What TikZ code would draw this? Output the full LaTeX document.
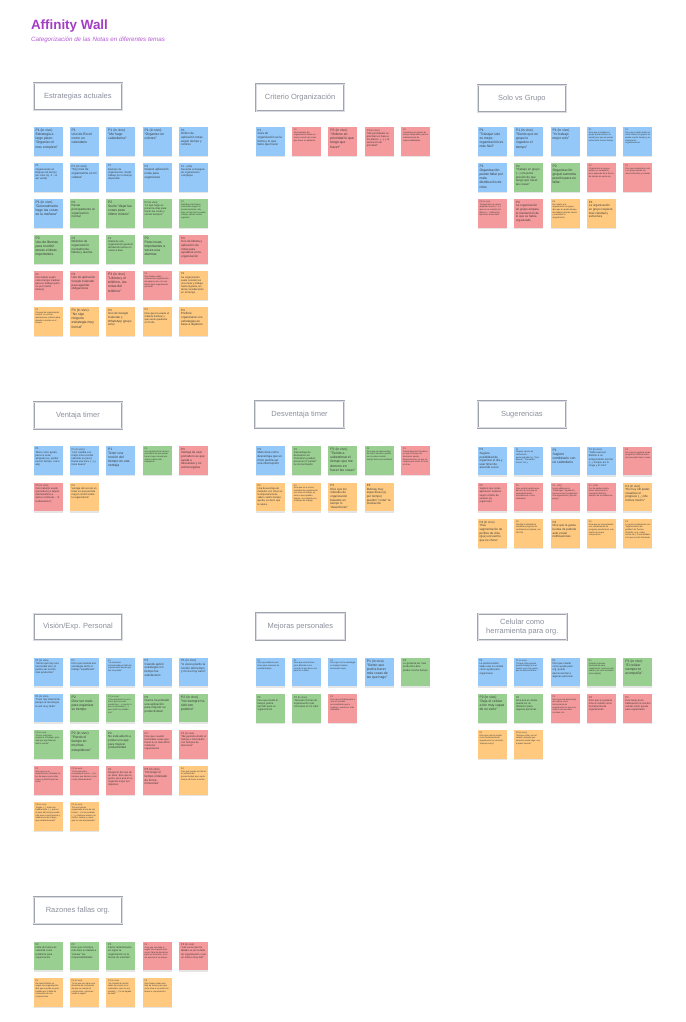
\documentclass[tikz,border=0pt]{standalone}
\usepackage{fontspec}
\setmainfont{Liberation Sans}
\usetikzlibrary{shadows}
\definecolor{nblue}{HTML}{93C8F8}
\definecolor{ngreen}{HTML}{99CF90}
\definecolor{nred}{HTML}{F59A9C}
\definecolor{norange}{HTML}{FFCA80}
\definecolor{ntext}{HTML}{3A3A3A}
\definecolor{hdrline}{HTML}{A0A4AF}
\definecolor{hdrinner}{HTML}{DADCE2}
\definecolor{hdrtext}{HTML}{8C909C}
\definecolor{titlepurple}{HTML}{A33EC4}
\definecolor{subpurple}{HTML}{B65AD4}
\newcommand\pb[1]{\parbox[t][24.5pt][t]{25pt}{\raggedright\hyphenpenalty=200 #1}}
\newcommand\nn[4]{\node[note,#2] (#1) at (#3) {\pb{#4}};}
\tikzset{
  note/.style={anchor=north west, inner sep=2pt, text=ntext,
    font=\fontsize{3.4}{4.1}\selectfont,
    drop shadow={shadow xshift=0pt, shadow yshift=-1.4pt, opacity=0.2}},
  nb/.style={fill=nblue}, ng/.style={fill=ngreen}, nr/.style={fill=nred}, no/.style={fill=norange},
  md/.style={font=\fontsize{3.0}{3.6}\selectfont},
  sm/.style={font=\fontsize{2.6}{3.1}\selectfont},
  tn/.style={font=\fontsize{2.15}{2.6}\selectfont},
  hdr/.style={anchor=north west, draw=hdrline, line width=0.7pt,
    double=hdrinner, double distance=0.6pt, fill=white,
    minimum width=88.5pt, minimum height=26.5pt, inner sep=1pt, align=center,
    text=hdrtext, font=\fontsize{7.5}{9}\selectfont,
    drop shadow={shadow xshift=0pt, shadow yshift=-0.8pt, opacity=0.08}}
}
\begin{document}
\begin{tikzpicture}[x=1pt,y=-1pt]
\fill[white] (0,0) rectangle (685,1022);
\useasboundingbox (0,0) rectangle (685,1022);
% title
\node[anchor=base west, inner sep=0pt, text=titlepurple, font=\fontsize{13.4}{15}\selectfont\bfseries] (title) at (30.8,29.5) {Affinity Wall};
\node[anchor=base west, inner sep=0pt, text=subpurple, font=\fontsize{6.2}{7}\selectfont\itshape] (subtitle) at (31,41.5) {Categorización de las Notas en diferentes temas};

% ---------------- Estrategias actuales
\node[hdr] (h1) at (33.3,83) {Estrategias actuales};
\nn{es11}{nb}{33.3,127}{P1 (in vivo)\\Estrategia a largo plazo: "Organizo el mes completo"}
\nn{es12}{nb}{69.5,127}{P1\\Uso de Excel como un calendario}
\nn{es13}{nb}{106,127}{P1 (in vivo)\\"Me hago calendarios"}
\nn{es14}{nb}{142.4,127}{P1 (in vivo)\\"Organizo en colores"}
\nn{es15}{nb,md}{179,127}{P1\\Orden de aplicación notas según tiempo y colores}
\nn{es21}{nb,sm}{33.3,163}{P1\\Organización en bloques de tiempo por color (ej. 0 - 11 am verde)}
\nn{es22}{nb,md}{69.5,163}{P1 (in vivo)\\"Soy más de organizarme en mi cabeza"}
\nn{es23}{nb,sm}{106,163}{P1\\Ejemplo de organización: dividir trabajo por el tiempo disponible}
\nn{es24}{nb,md}{142.4,163}{P1\\Grupos aplicación notas para organizarse}
\nn{es25}{nb,sm}{179,163}{P1 - (OS)\\Necesita estrategias de organización complejas}
\nn{es31}{nb}{33.3,199}{P1 (in vivo)\\"Generalmente hago las cosas en la mañana"}
\nn{es32}{ng,md}{69.5,199}{P2\\Recae principalmente en organización mental}
\nn{es33}{ng}{106,199}{P2\\Suele "dejar las cosas para último minuto"}
\nn{es34}{ng,sm}{142.4,199}{P2 (in vivo)\\"Lo que hago es ponerme días para hacer las cosas y ciertos tiempos"}
\nn{es35}{ng,tn}{179,199}{P2\\Distribuye las tareas semanales según su involucramiento: alto, bajo, si hay más lo puede cumplir, tareas menos urgentes}
\nn{es41}{ng}{33.3,235}{P2\\Uso de libretas para escribir tareas e ideas importantes.}
\nn{es42}{ng,md}{69.5,235}{P2\\Métodos de organización: mentalmente, libreta y alarma}
\nn{es43}{ng,sm}{106,235}{P2\\Habla de una organización general: dividiendo tareas en cosas a días.}
\nn{es44}{ng}{142.4,235}{P2\\Para cosas importantes a veces usa alarmas}
\nn{es45}{nr,md}{179,235}{P3\\Uso de libreta y aplicación de notas para ayudarse en la organización}
\nn{es51}{nr,sm}{33.3,271}{P3\\Dice haber usado como tiempo Kanban para su trabajo (pero no por mucho tiempo)}
\nn{es52}{nr,md}{69.5,271}{P3\\Uso de aplicación Google Calendar para agendar obligaciones}
\nn{es53}{nr}{106,271}{P3 (in vivo)\\"Libreta y el teléfono, las notas del teléfono"}
\nn{es54}{nr,tn}{142.4,271}{P3\\Dice haber usado métodos de organización de equipo pero con una libreta para organización personal}
\nn{es55}{no,sm}{179,271}{P4\\Su organización suele consistir en una meta y trabaja hasta lograrla, sin tanta consideración en el tiempo}
\nn{es61}{no,tn}{33.3,307}{P4\\Proceso de organización mental: en uso de aplicaciones y libreta para atender a metas en el tiempo}
\nn{es62}{no}{69.5,307}{P4 (in vivo)\\"No sigo ninguna estrategia muy formal"}
\nn{es63}{no,md}{106,307}{P4\\Uso de Google Calendar y WhatsApp (grupo solo)}
\nn{es64}{no,sm}{142.4,307}{P4\\Dice que ha usado el método Kanban y que suele quedarse en Trello}
\nn{es65}{no,md}{179,307}{P4\\Prefiere organizarse con estrategias en base a objetivos}

% ---------------- Criterio Organización
\node[hdr] (h2) at (255.5,84) {Criterio Organización};
\nn{co1}{nb,md}{255.3,127}{P1\\Guía de organización es la fecha y lo que tiene que hacer}
\nn{co2}{nr,tn}{291.7,127}{P3\\Usa métodos de organización desde un marco común de cosas que hacer en adelante}
\nn{co3}{nr}{328.2,127}{P3 (in vivo)\\"Ordeno en prioridad lo que tengo que hacer"}
\nn{co4}{nr,sm}{364.6,127}{P3 (in vivo)\\"Mis prioridades se priorizan en base a los plazos, (...), y la sensación de prioridad"}
\nn{co5}{nr,tn}{401,127}{P3\\Considera los plazos de tiempo disponibles para el ordenamiento de responsabilidades}

% ---------------- Solo vs Grupo
\node[hdr] (h3) at (477.3,85) {Solo vs Grupo};
\nn{sg11}{nb}{477.3,127}{P1\\"Trabajar solo es mejor, organización es más fácil"}
\nn{sg12}{nb}{513.8,127}{P1 (in vivo)\\"Siento que en grupo lo organizo el tiempo"}
\nn{sg13}{nb}{550.3,127}{P1 (in vivo)\\"Yo trabajo mejor solo"}
\nn{sg14}{nb,tn}{586.7,127}{P1\\Dice que el trabajo en grupo presencial (no lo puede) por que se puede estructurar mucho tiempo}
\nn{sg15}{nb,tn}{623.2,127}{P1\\Dice que cuando todos no están claros en grupos se pierde mucho tiempo y no siempre las organizaciones}
\nn{sg21}{nb}{477.3,163}{P1\\Organización puede fallar por mala distribución de roles}
\nn{sg22}{ng,md}{513.8,163}{P2\\"Trabajo en grupo (...) me pone presión de que tengo que hacer las cosas"}
\nn{sg23}{ng}{550.3,163}{P2\\Organización grupal aumenta presión para no fallar.}
\nn{sg24}{nr,tn}{586.7,163}{P3\\Organizarse en grupo puede ser verdadero, pero depende de la forma de trabajo de cada uno}
\nn{sg25}{nr,tn}{623.2,163}{P3\\Dice que organizarse solo o en grupo puede ser menos eficiente y ordenar}
\nn{sg31}{nr,tn}{477.3,199}{P3 (in vivo)\\"Organizarse en grupo depende mucho (...) a que no se cumplen los plazos (...) diferentes ejercicios esenciales"}
\nn{sg32}{nr,md}{513.8,199}{P3\\La organización en grupo ampara la mantención de lo que se había organizado}
\nn{sg33}{no,tn}{550.3,199}{P4\\En cuanto a la organización en grupo, dice que le queda tiempo de trabajo para las tareas y mantener la organización}
\nn{sg34}{no,md}{586.7,199}{P4\\La organización en grupo requiere más claridad y estructura}

% ---------------- Ventaja timer
\node[hdr] (h4) at (33.3,401.7) {Ventaja timer};
\nn{vt11}{nb,sm}{33.3,446}{P1\\Tener como ayuda para no estar atrapado (ej. perder noción tiempo, como ala)}
\nn{vt12}{nb,sm}{69.5,446}{P1 (in vivo)\\"Uno cambia a lo mejor más el estilo (atiende un poco) basta una hora (...) y tiene bueno"}
\nn{vt13}{nb}{106,446}{P1\\Tener una noción del tiempo es una ventaja}
\nn{vt14}{ng,tn}{142.4,446}{P2\\Una ventaja de la técnica pomodoro es que puede hacer mayor conciencia sobre cuánto está trabajando}
\nn{vt15}{nr,md}{179,446}{P3\\Ventaja de usar pomodoro es que ayuda a descansar y no sobrecargarse}
\nn{vt21}{nr,sm}{33.3,482.5}{P3 (in vivo)\\Dice haberlo usado (pomodoro) a tarjeta (del beneficio a opinar continuar... "a la liberadora")}
\nn{vt22}{no,sm}{69.5,482.5}{P4\\Ventaja del uso de un timer es que permite mayor control sobre la organización}

% ---------------- Desventaja timer
\node[hdr] (h5) at (255,400.7) {Desventaja timer};
\nn{dt11}{nb,md}{255.3,446}{P1\\Menciona como desventaja que un timer podría ser una interrupción}
\nn{dt12}{ng,sm}{291.7,446}{P2\\Desventaja de descansos en Pomodoro pueden provocar el "perder" la concentración}
\nn{dt13}{ng}{328.2,446}{P2 (in vivo)\\"Tiendo a subestimar el tiempo que me demoro en hacer las cosas"}
\nn{dt14}{ng,tn}{364.6,446}{P2\\Dice que una desventaja de usar Pomodoro puede ser no saber cuánto tiempo tiene una actividad}
\nn{dt15}{nr,tn}{401,446}{P3\\Desventaja de Pomodoro es que el tiempo de descanso puede desconcentrar, ya que se tendría que volver a tomar el ritmo}
\nn{dt21}{no,sm}{255.3,482.5}{P4\\Una desventaja de métodos con timer es la impaciencia de saber cuánto tiempo queda, es decir que te apura.}
\nn{dt22}{no,tn}{291.7,482.5}{P4\\Dice que no le sirven métodos de organización con tener el tiempo ya, tener a que quedan tiempo, con métodos en el tiempo de trabajo}
\nn{dt23}{no,md}{328.2,482.5}{P4\\Dice que los métodos de organización basados en tiempo lo "desenfocan"}
\nn{dt24}{no,md}{364.6,482.5}{P4\\Rutinas muy específicas (ej. por tiempo) pueden "cortar" la motivación}

% ---------------- Sugerencias
\node[hdr] (h6) at (477.3,400.7) {Sugerencias};
\nn{su11}{nb,md}{477.3,446.7}{P1\\Sugiere posibilidad de organizar el día y usar timer de acuerdo a eso}
\nn{su12}{nb,tn}{513.8,446.7}{P1\\Sugiere opción de notificación personalizable (ej. "Qué buena!", "Recuerda tomar!" etc.)}
\nn{su13}{nb}{550.3,446.7}{P1\\Sugiere combinarlo con un calendario}
\nn{su14}{nb,sm}{586.7,446.7}{P1 (in vivo)\\"Sobre que así distinto a un temporizador normal (...) Porque así lo tengo y lo miro"}
\nn{su15}{nr,tn}{623.2,446.7}{P3\\Dice que le gustaría poder programar notificaciones para recordar hacer cosas}
\nn{su21}{nr,sm}{477.3,482.7}{P3\\Sugiere que notas aplicación ordenen según criterio de usuario (ej. urgencias)}
\nn{su22}{nr,tn}{513.8,482.7}{P3\\Dice podría beneficiarse del uso de una app en capacidad tareas recordatorios, como calendario}
\nn{su23}{nr,tn}{550.3,482.7}{P3 - (OS)\\Incluir adherencia "challenges" (ayudarlo) para promover motivación a la organización (tipo de juego)}
\nn{su24}{nr,tn}{586.7,482.7}{P3 - (OS)\\Por de perder podría hacer seleccionar a compartir distintos tiempos de recordatorios}
\nn{su25}{no,md}{623.2,482.7}{P4 (in vivo)\\"Es muy útil poder visualizar el progreso (...) Me motiva mucho"}
\nn{su31}{no,md}{477.3,519}{P4 (in vivo)\\"Esa segmentación de perfiles de vida (que) encuentro que es chora"}
\nn{su32}{no,tn}{513.8,519}{P4\\Resalta la utilidad de visualizar progreso de contribuciones (plena, así Git Chi)}
\nn{su33}{no,md}{550.3,519}{P4\\Dice que le gusta la idea de poderle auto enviar notificaciones}
\nn{su34}{no,tn}{586.7,519}{P4\\Dice que un temporizador con visualización de progreso puede tener una suerte de mayor compromiso}
\nn{su35}{no,tn}{623.2,519}{P4\\Le gusta combinación con "segmentación de perfiles" de Tiempo (Estudio, ocio, redes, noche etc.) Conectándolo a lo que se esté haciendo.}

% ---------------- Visión/Exp. Personal
\node[hdr] (h7) at (33.3,613.3) {Visión/Exp. Personal};
\nn{vi11}{nb,sm}{33.3,657.5}{P1 (in vivo)\\"Siento que hay una necesidad sino, lo podría ser mucho más productivo"}
\nn{vi12}{nb,sm}{69.5,657.5}{P1\\Dice que cuando usó estrategia sintió el trabajo "equilibrado"}
\nn{vi13}{nb,tn}{106,657.5}{P1\\"La evolución estructurada por falta de organización desde que fue muy tarde"}
\nn{vi14}{nb,md}{142.4,657.5}{P1\\Cuando aplicó estrategia con tiempo fue satisfactorio}
\nn{vi15}{nb,md}{179,657.5}{P1 (in vivo)\\"A veces pierdo la noción del tiempo y no es muy sano"}
\nn{vi21}{nb,sm}{33.3,693.7}{P1 (in vivo)\\"Pues hay solamente porque la tecnología lo usé muy tarde"}
\nn{vi22}{ng}{69.5,693.7}{P2\\Dice ser malo para organizar su tiempo}
\nn{vi23}{ng,tn}{106,693.7}{P2 (in vivo)\\"Una aplicación no sé a hacer que sea más productivo (...) mucho lo que es pomodoro (...) pero tanto lo probado uno"}
\nn{vi24}{ng,md}{142.4,693.7}{P2\\Nunca ha probado una aplicación para mejorar su productividad}
\nn{vi25}{ng}{179,693.7}{P2 (in vivo)\\"No siempre ha sido tan positivo"}
\nn{vi31}{ng,tn}{33.3,730}{P2 (in vivo)\\"Soy lo más para organizar el trabajo, pero siempre algo falla por último minuto"}
\nn{vi32}{ng}{69.5,730}{P2 (in vivo)\\"Pierdo el tiempo en muchas estupideces"}
\nn{vi33}{ng,md}{106,730}{P2\\No está abierto a probar una app para mejorar productividad}
\nn{vi34}{nr,sm}{142.4,730}{P3\\Dice que cuando terminaba cosas que hacer le es más difícil mantener organización}
\nn{vi35}{nr,sm}{179,730}{P3 (in vivo)\\"Me gustaría dividir el tiempo o intercalarlo con tiempos de descanso"}
\nn{vi41}{nr,tn}{33.3,766}{P3\\Dice que en su departamento (trabajo) se los de bueno para estar, mayor y distinta para su hacer}
\nn{vi42}{nr,tn}{69.5,766}{P3 (in vivo)\\"Creo que estoy recuperando poco (...) los tiempos que destino a mis cosas planteamiento"}
\nn{vi43}{nr,sm}{106,766}{P3\\Respecto del uso de un timer, dice que le gusta, pero que él se organiza mejor por objetivos}
\nn{vi44}{nr,md}{142.4,766}{P3 (in vivo)\\"No tengo el tiempo ordenado de forma minuciosa"}
\nn{vi45}{no,tn}{179,766}{P4\\Dice que puede ser útil en un sistema de productividad, pero sería tiempo de hacer muchas}
\nn{vi51}{no,tn}{33.3,802}{P4 (in vivo)\\"Según (...) más muy tradicionales (...) que en el paso del tiempo puede más esas cosas buenas y tradiciones del trabajo que estaba llenando"}
\nn{vi52}{no,tn}{69.5,802}{P4 (in vivo)\\"Es uno tiempo organizado a uno de mis horas (...) lo he probado (...) y siempre vuelvo a lo mismo, tiempo y cosas que se van acumulando"}

% ---------------- Mejoras personales
\node[hdr] (h8) at (255.7,612.7) {Mejoras personales};
\nn{me11}{nb,tn}{255.3,657.7}{P1\\Dice que debería usar timer para sesiones de estudio/trabajo}
\nn{me12}{nb,tn}{291.7,657.7}{P1\\Dice que usaría timer, pero dificulta a uno normal, lo que tiene uno para no lo sabe}
\nn{me13}{nb,tn}{328.2,657.7}{P1\\Dice que con la estrategia su trabajo hubiera terminado mejor}
\nn{me14}{nb}{364.6,657.7}{P1 (in vivo)\\"Siento que podría hacer más cosas de las que hago"}
\nn{me15}{ng,sm}{401,657.7}{P2\\Le gustaría ser más productivo dice perder mucho tiempo}
\nn{me21}{ng,sm}{255.3,694}{P2\\Dice que dividir el tiempo podría permitir para su organización}
\nn{me22}{ng,sm}{291.7,694}{P2 (in vivo)\\"Necesito formas de organización más concretas en mi vida"}
\nn{me23}{nr,tn}{328.2,694}{P3\\Dice que está dispuesto a usar un método personalizado que lo organice, puede ser más saludable}

% ---------------- Celular como herramienta para org.
\node[hdr] (h9) at (477.7,613.3) {Celular como\\herramienta para org.};
\nn{ce11}{nb,sm}{477.3,657.7}{P1\\La persona tiene ideas usar su celular como ayuda para organizarse}
\nn{ce12}{nb,tn}{513.8,657.7}{P1 (in vivo)\\"Porque hasta ayuda (puede trabajo) con el celular, pero hay gente que se desconcentra..."}
\nn{ce13}{nb,sm}{550.3,657.7}{P1\\Dice que celular como ayuda para org. puede desconcentrar a algunas personas}
\nn{ce14}{ng,tn}{586.7,657.7}{P2\\Celular es buena herramienta para organizarse, siempre está usado y es más accesible (más rápido)}
\nn{ce15}{ng}{623.2,657.7}{P2 (in vivo)\\"El celular siempre te acompaña"}
\nn{ce21}{ng}{477.3,694}{P2 (in vivo)\\"Deja el celular a tiro muy capaz de no verlo"}
\nn{ce22}{ng,sm}{513.8,694}{P2\\Dice que el celular puede ser un distractor para algunas personas}
\nn{ce23}{nr,tn}{550.3,694}{P3\\Dice que una desventaja del celular como herramienta de organización es que sea mucho uso de redes sociales, etc.}
\nn{ce24}{nr,sm}{586.7,694}{P3\\Dice que le gustaría más el celular como herramienta de organización}
\nn{ce25}{nr,sm}{623.2,694}{P3\\Dice tener poca habituación al uso del celular como ayuda para organizarse}
\nn{ce31}{no,tn}{477.3,730}{P4\\Dice que usar el celular como herramienta de organización es cómodo, "siempre estoy"}
\nn{ce32}{no,tn}{513.8,730}{P4 (in vivo)\\"Siempre estoy con el celular, siempre que necesito anotar algo, voy a poder hacerlo"}

% ---------------- Razones fallas org.
\node[hdr] (h10) at (33.3,896.7) {Razones fallas org.};
\nn{ra11}{ng,sm}{33.3,941.7}{P2\\Falta de fuerza de voluntad como problema para organización}
\nn{ra12}{ng,sm}{69.5,941.7}{P2\\Dice que el tiempo más bien es debido a "pasear" las responsabilidades}
\nn{ra13}{ng,sm}{106,941.7}{P2\\Factor determinante en lograr la organización es la fuerza de voluntad}
\nn{ra14}{nr,tn}{142.4,941.7}{P3\\Cree que una falla al seguir una organización es por falta de disciplina, para ser honestos, y a ir sin avanzar a su tiempo}
\nn{ra15}{nr,sm}{179,941.7}{P3 (in vivo)\\"Las veces que he fallado es por la falta de organización o por un motivo muy late"}
\nn{ra21}{no,tn}{33.3,978}{P4\\De nuestro fallar en seguir una organización, dice que sucede en gran medida por la falta de motivación de sus compromisos}
\nn{ra22}{no,tn}{69.5,978}{P4 (in vivo)\\"Si es que uno tiene una dinámica de motivación de que no cumple el compromiso, entonces tiende a seguir"}
\nn{ra23}{no,tn}{106,978}{P4 (in vivo)\\"He tratado de anotar todas las cosas en el calendario, pero se me olvidan (...) lo he dejado de lado"}
\nn{ra24}{no,tn}{142.4,978}{P4\\Dice haber usado una lista de tareas pero que no le sirve a recordar sus tareas o compromisos}
\end{tikzpicture}
\end{document}
